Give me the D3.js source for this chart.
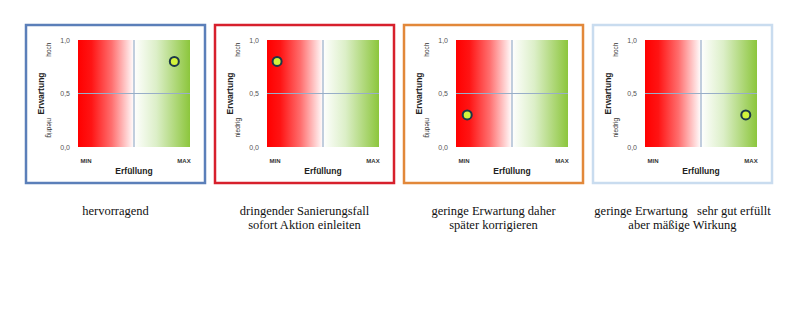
<!DOCTYPE html>
<html>
<head>
<meta charset="utf-8">
<script src="https://cdn.jsdelivr.net/npm/d3@7"></script>
<style>
  body { margin:0; background:#fff; }
  svg { display:block; }
  .tick text { fill:#555; font-family:"Liberation Sans",Arial,sans-serif; font-size:7px; }
  .domain { display:none; }
</style>
</head>
<body>
<svg></svg>
<script>
const WIDTH = 798
const HEIGHT = 309

// data
const fulfilment = [0.86, 0.09, 0.10, 0.90]   // Erfüllung, MIN=0 .. MAX=1
const expectation = [0.80, 0.80, 0.30, 0.30]  // Erwartung, 0..1
const borderColors = ['#5b7fb9','#d7202c','#e2883a','#c9dcef']
const yTicks = [0, 0.5, 1]
const xLabels = ['MIN','MAX']
const captions = [
  ['hervorragend'],
  ['dringender Sanierungsfall','sofort Aktion einleiten'],
  ['geringe Erwartung daher','später korrigieren'],
  ['geringe Erwartung   sehr gut erfüllt','aber mäßige Wirkung']
]
const niedrigUp = [false, true, false, true]

const PANEL_X = [26, 215, 404, 593]
const PANEL_Y = 25
const PANEL_W = 179
const PANEL_H = 158
const PLOT = { left:52, top:15, width:112, height:107 }

const svg = d3.select('svg')
  .attr('width',WIDTH)
  .attr('height',HEIGHT)

const defs = svg.append('defs')
const grad = defs.append('linearGradient')
  .attr('id','heat')
  .attr('x1','0').attr('x2','1').attr('y1','0').attr('y2','0')
;[[0,'#ff0000'],[0.12,'#ff1414'],[0.3,'#ff6e6e'],[0.5,'#ffffff'],[0.7,'#dcefc8'],[1,'#8cc63c']]
  .forEach(s => grad.append('stop').attr('offset',s[0]).attr('stop-color',s[1]))

const x = d3.scaleLinear().domain([0,1]).range([0,PLOT.width])
const y = d3.scaleLinear().domain([0,1]).range([PLOT.height,0])
const sans = '"Liberation Sans",Arial,sans-serif'

fulfilment.forEach((fv,i) => {
  const g = svg.append('g').attr('transform',`translate(${PANEL_X[i]},${PANEL_Y})`)

  g.append('rect')
    .attr('width',PANEL_W)
    .attr('height',PANEL_H)
    .attr('fill','#fff')
    .attr('stroke',borderColors[i])
    .attr('stroke-width',2.5)

  const p = g.append('g').attr('transform',`translate(${PLOT.left},${PLOT.top})`)
  p.append('rect')
    .attr('width',PLOT.width)
    .attr('height',PLOT.height)
    .attr('fill','url(#heat)')
  p.append('line')
    .attr('x1',x(0.5)).attr('x2',x(0.5))
    .attr('y1',0).attr('y2',PLOT.height)
    .attr('stroke','#98aec8').attr('stroke-width',1.2)
  p.append('line')
    .attr('x1',0).attr('x2',PLOT.width)
    .attr('y1',y(0.5)).attr('y2',y(0.5))
    .attr('stroke','#98aec8').attr('stroke-width',1)

  p.append('g')
    .call(d3.axisLeft(y).tickValues(yTicks).tickSize(0).tickPadding(8)
      .tickFormat(d => d3.format('.1f')(d).replace('.',',')))

  p.selectAll('.xlab')
    .data(xLabels)
    .enter().append('text')
    .attr('x',(d,j) => x(j) + (j ? -6 : 8))
    .attr('y',PLOT.height+16)
    .attr('text-anchor','middle')
    .attr('font-family',sans).attr('font-size',6).attr('font-weight','bold')
    .attr('fill','#333')
    .text(d => d)

  p.append('text')
    .attr('x',x(0.5))
    .attr('y',PLOT.height+27)
    .attr('text-anchor','middle')
    .attr('font-family',sans).attr('font-size',8.5).attr('font-weight','bold')
    .attr('fill','#222')
    .text('Erfüllung')

  g.append('text')
    .attr('transform',`translate(18,${PLOT.top+y(0.5)}) rotate(-90)`)
    .attr('text-anchor','middle')
    .attr('font-family',sans).attr('font-size',8.5).attr('font-weight','bold')
    .attr('fill','#222')
    .text('Erwartung')

  g.append('text')
    .attr('transform',`translate(25,${PLOT.top+y(0.91)}) rotate(-90)`)
    .attr('text-anchor','middle')
    .attr('font-family',sans).attr('font-size',6.5)
    .attr('fill','#333')
    .text('hoch')

  g.append('text')
    .attr('transform',`translate(${niedrigUp[i]?25:21},${PLOT.top+y(0.18)}) rotate(${niedrigUp[i]?-90:90})`)
    .attr('text-anchor','middle')
    .attr('font-family',sans).attr('font-size',6.5)
    .attr('fill','#333')
    .text('niedrig')

  p.append('circle')
    .attr('cx',x(fv))
    .attr('cy',y(expectation[i]))
    .attr('r',4.5)
    .attr('fill','#d2f33c')
    .attr('stroke','#1c3848')
    .attr('stroke-width',2)

  const cap = svg.append('text')
    .attr('x',PANEL_X[i]+PANEL_W/2)
    .attr('y',215)
    .attr('text-anchor','middle')
    .attr('font-family','"Liberation Serif","Times New Roman",serif')
    .attr('font-size',12.5)
    .attr('fill','#111')
    .attr('xml:space','preserve')
    .style('white-space','pre')
  captions[i].forEach((line,k) => {
    cap.append('tspan')
      .attr('x',PANEL_X[i]+PANEL_W/2)
      .attr('dy',k ? 14 : 0)
      .text(line)
  })
})
</script>
</body>
</html>
